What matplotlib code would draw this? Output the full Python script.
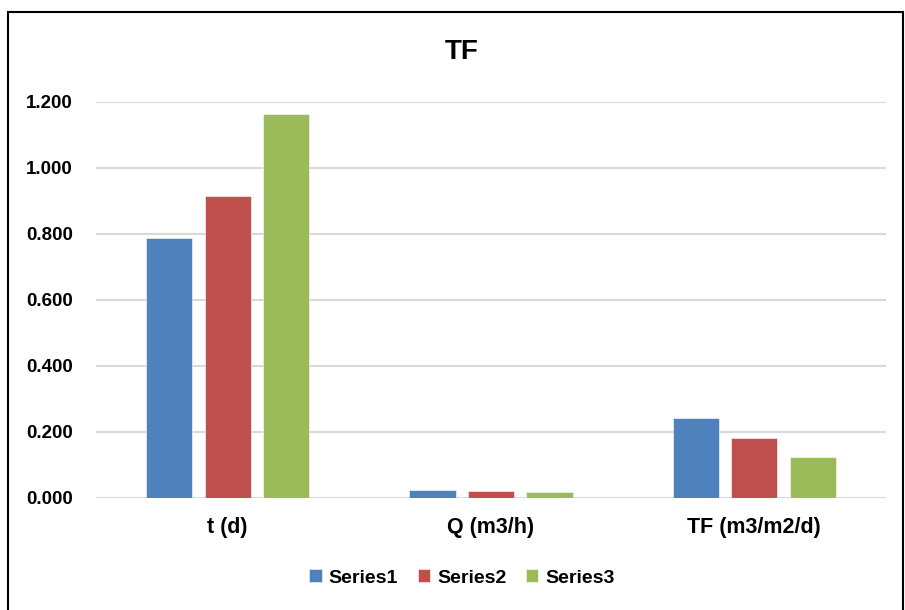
import numpy as np
import matplotlib.pyplot as plt
from matplotlib.patches import Rectangle

categories = ["t (d)", "Q (m3/h)", "TF (m3/m2/d)"]
series_names = ["Series1", "Series2", "Series3"]
series1 = [0.788, 0.023, 0.242]
series2 = [0.915, 0.020, 0.183]
series3 = [1.164, 0.017, 0.123]
colors = ["#4F81BD", "#C0504D", "#9BBB59"]
yticks = [0.0, 0.2, 0.4, 0.6, 0.8, 1.0, 1.2]

plt.rcParams['font.family'] = ['Liberation Sans', 'DejaVu Sans']
plt.rcParams['font.weight'] = 'bold'

fig = plt.figure(figsize=(9.05, 6.10), dpi=100)
ax = fig.add_axes([96 / 905, 112 / 610, 790 / 905, 396 / 610])

x = np.arange(len(categories))
width = 0.175
step = 0.222
for k, (vals, name) in enumerate(zip([series1, series2, series3], series_names)):
    ax.bar(x + (k - 1) * step, vals, width, color=colors[k], label=name,
           edgecolor='white', linewidth=0.4, zorder=3)

ax.set_xlim(-0.5, 2.5)
ax.set_ylim(0, 1.2)
ax.set_yticks(yticks)
ax.set_yticklabels(["%.3f" % v for v in yticks], fontsize=13.5, fontweight='bold')
ax.set_xticks(x)
ax.set_xticklabels(categories, fontsize=15.5, fontweight='bold')
ax.tick_params(axis='both', length=0)
ax.tick_params(axis='y', pad=16.5)
ax.tick_params(axis='x', pad=14)
ax.grid(axis='y', color='#d9d9d9', linewidth=1.5, zorder=0)
for s in ax.spines.values():
    s.set_visible(False)

fig.text(462 / 905, 558 / 610, "TF", fontsize=20, fontweight='bold',
         ha='center', va='center')

fig.legend(loc='center', bbox_to_anchor=(462 / 905, 32 / 610), ncol=3,
           frameon=False, fontsize=14, handlelength=0.65, handleheight=0.65,
           handletextpad=0.35, columnspacing=1.0)

fig.patches.append(Rectangle((8 / 905, -0.05), 895 / 905, 1.05 - 12 / 610,
                             transform=fig.transFigure, fill=False,
                             edgecolor='black', linewidth=1.5))

fig.savefig("out.png", dpi=100)
